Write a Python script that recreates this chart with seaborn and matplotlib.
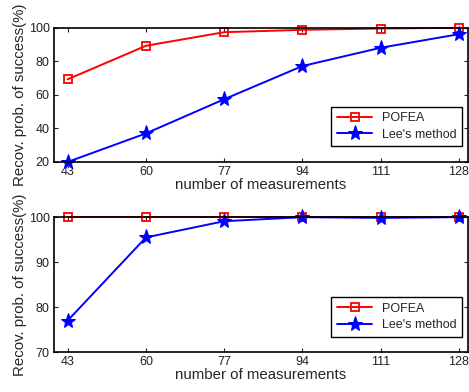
import matplotlib
matplotlib.use("Agg")
import matplotlib.pyplot as plt
import seaborn as sns
import pandas as pd

# measurements on x axis
measurements = [43, 60, 77, 94, 111, 128]

# top panel
pofea_top = [69.3, 89.3, 97.4, 98.8, 99.6, 100.0]
lee_top = [20.0, 37.0, 57.4, 77.2, 88.1, 96.2]

# bottom panel
pofea_bottom = [100.0, 100.0, 100.0, 100.0, 100.0, 100.0]
lee_bottom = [77.0, 95.5, 99.1, 100.0, 99.85, 100.0]

sns.set_style("ticks")
plt.rcParams['font.family'] = ['Liberation Sans', 'DejaVu Sans']
plt.rcParams['xtick.direction'] = 'in'
plt.rcParams['ytick.direction'] = 'in'

fig = plt.figure(figsize=(4.69, 3.92), dpi=100)
ax_top = fig.add_axes([0.115, 0.587, 0.883, 0.342])
ax_bot = fig.add_axes([0.115, 0.102, 0.883, 0.344])


def panel(ax, pofea, lee, ylim, yticks):
    df = pd.DataFrame({'m': measurements, 'pofea': pofea, 'lee': lee})
    sns.lineplot(data=df, x='m', y='pofea', ax=ax, color='red', marker='s',
                 markersize=6, markerfacecolor='none', markeredgecolor='red',
                 markeredgewidth=1.3, linewidth=1.4, label='POFEA', clip_on=False)
    sns.lineplot(data=df, x='m', y='lee', ax=ax, color='blue', marker='*',
                 markersize=11, markeredgecolor='blue', linewidth=1.4,
                 label="Lee's method", clip_on=False)
    ax.set_xlim(40, 130)
    ax.set_ylim(*ylim)
    ax.set_xticks(measurements)
    ax.set_yticks(yticks)
    ax.tick_params(top=True, right=True, labelsize=9, length=3, width=0.8,
                   colors='#222222', pad=3)
    for s in ax.spines.values():
        s.set_linewidth(1.2)
        s.set_color('black')
    ax.set_xlabel('number of measurements', fontsize=10.8, labelpad=0)
    ax.set_ylabel('Recov. prob. of success(%)', fontsize=10.8, labelpad=1)
    leg = ax.legend(loc='lower right', bbox_to_anchor=(0.986, 0.115),
                    fancybox=False, edgecolor='black', framealpha=1,
                    fontsize=9, handlelength=2.8, borderaxespad=0,
                    borderpad=0.45, labelspacing=0.35)
    leg.get_frame().set_linewidth(1.0)


panel(ax_top, pofea_top, lee_top, (20, 100), [20, 40, 60, 80, 100])
panel(ax_bot, pofea_bottom, lee_bottom, (70, 100), [70, 80, 90, 100])

fig.savefig('out.png', dpi=100)
